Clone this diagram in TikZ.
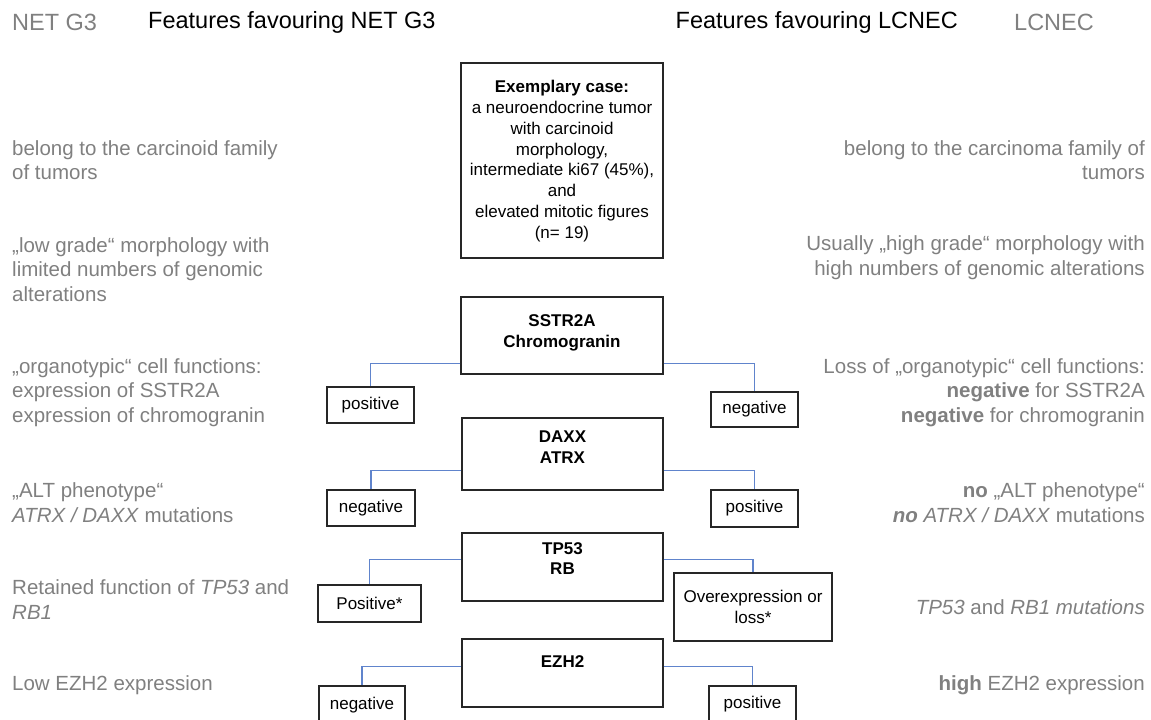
\documentclass[tikz,border=0pt]{standalone}
\usepackage{fontspec}
\setmainfont{Liberation Sans}
\definecolor{sidegrey}{RGB}{128,128,128}
\definecolor{linkblue}{RGB}{96,132,204}
\begin{document}
\begin{tikzpicture}[x=1pt,y=-1pt,
  box/.style={draw=black!85, line width=1.2pt, inner sep=0pt},
  boxtext/.style={font=\fontsize{17}{20.8}\selectfont\bfseries, align=center, inner sep=0pt},
  lbl/.style={draw=black!85, line width=1.2pt, font=\fontsize{17}{20.8}\selectfont, align=center, inner sep=0pt},
  conn/.style={draw=linkblue, line width=1.1pt},
  sidel/.style={text=sidegrey, font=\fontsize{20.5}{24.5}\selectfont, inner sep=0pt, anchor=west, align=left},
  sider/.style={text=sidegrey, font=\fontsize{20.5}{24.5}\selectfont, inner sep=0pt, anchor=east, align=right},
  hdr/.style={font=\fontsize{23.5}{28}\selectfont, inner sep=0pt}]

\useasboundingbox (0,0) rectangle (1151,720);

% headers
\node[hdr, text=sidegrey, anchor=west] (hnet) at (12,22) {NET G3};
\node[hdr, anchor=west] (hfnet) at (148,22) {Features favouring NET G3};
\node[hdr, anchor=east] (hflc) at (958,22) {Features favouring LCNEC};
\node[hdr, text=sidegrey, anchor=west] (hlc) at (1014,22) {LCNEC};

% central boxes
\node[box, minimum width=202pt, minimum height=195pt] (ex) at (562,160.5) {};
\node[font=\fontsize{17}{20.8}\selectfont, align=center, inner sep=0pt] (extext) at (562,161)
  {\textbf{Exemplary case:}\\ a neuroendocrine tumor\\ with carcinoid\\ morphology,\\ intermediate ki67 (45\%),\\ and\\ elevated mitotic figures\\ (n= 19)};

\node[box, minimum width=202pt, minimum height=77pt] (sstr) at (562,335.5) {};
\node[boxtext] (sstrtext) at (562,333) {SSTR2A\\Chromogranin};

\node[box, minimum width=201pt, minimum height=72pt] (daxx) at (562.5,454) {};
\node[boxtext] (daxxtext) at (562.5,447.5) {DAXX\\ATRX};

\node[box, minimum width=201pt, minimum height=68pt] (tp) at (562.5,567) {};
\node[boxtext] (tptext) at (562.5,558.5) {TP53\\RB};

\node[box, minimum width=201pt, minimum height=68pt] (ezh) at (562.5,673) {};
\node[boxtext] (ezhtext) at (562.5,662) {EZH2};

% outcome boxes
\node[lbl, minimum width=87pt, minimum height=36pt] (pos1) at (370.5,405) {positive};
\node[lbl, minimum width=87pt, minimum height=35pt] (neg1) at (754.5,409.5) {negative};
\node[lbl, minimum width=88pt, minimum height=36pt] (neg2) at (371,508) {negative};
\node[lbl, minimum width=87pt, minimum height=37pt] (pos2) at (754.5,508.5) {positive};
\node[lbl, minimum width=103pt, minimum height=37pt] (pos3) at (369.5,603.5) {Positive*};
\node[lbl, minimum width=158pt, minimum height=68pt] (over3) at (753,607) {Overexpression or\\loss*};
\node[lbl, minimum width=86pt, minimum height=38pt, text depth=0pt] (neg4) at (362,705) {\raisebox{4pt}{negative}};
\node[lbl, minimum width=87pt, minimum height=38pt, text depth=0pt] (pos4) at (752.5,705) {\raisebox{6pt}{positive}};

% connectors
\draw[conn] (sstr.south west) ++(0,-11) -| (pos1.north);
\draw[conn] (sstr.south east) ++(0,-11) -| (neg1.north);
\draw[conn] (daxx.south west) ++(0,-20) -| (neg2.north);
\draw[conn] (daxx.south east) ++(0,-20) -| (pos2.north);
\draw[conn] (tp.south west) ++(0,-42) -| (pos3.north);
\draw[conn] (tp.south east) ++(0,-42) -| (over3.north);
\draw[conn] (ezh.south west) ++(0,-41) -| (neg4.north);
\draw[conn] (ezh.south east) ++(0,-41) -| (pos4.north);

% left side texts
\node[sidel] (l1) at (12,160) {belong to the carcinoid family\\of tumors};
\node[sidel] (l2) at (12,269.5) {„low grade“ morphology with\\limited numbers of genomic\\alterations};
\node[sidel] (l3) at (12,392.5) {„organotypic“ cell functions:\\expression of SSTR2A\\expression of chromogranin};
\node[sidel] (l4) at (12,502.5) {„ALT phenotype“\\\textit{ATRX / DAXX} mutations};
\node[sidel] (l5) at (12,599.5) {Retained function of \textit{TP53} and\\\textit{RB1}};
\node[sidel] (l6) at (12,685) {Low EZH2 expression};

% right side texts
\node[sider] (r1) at (1145,160) {belong to the carcinoma family of\\tumors};
\node[sider] (r2) at (1145,257.5) {Usually „high grade“ morphology with\\high numbers of genomic alterations};
\node[sider] (r3) at (1145,392.5) {Loss of „organotypic“ cell functions:\\\textbf{negative} for SSTR2A\\\textbf{negative} for chromogranin};
\node[sider] (r4) at (1145,502.5) {\textbf{no} „ALT phenotype“\\\textbf{\textit{no}} \textit{ATRX / DAXX} mutations};
\node[sider] (r5) at (1145,607) {\textit{TP53} and \textit{RB1 mutations}};
\node[sider] (r6) at (1145,685) {\textbf{high} EZH2 expression};
\end{tikzpicture}
\end{document}
